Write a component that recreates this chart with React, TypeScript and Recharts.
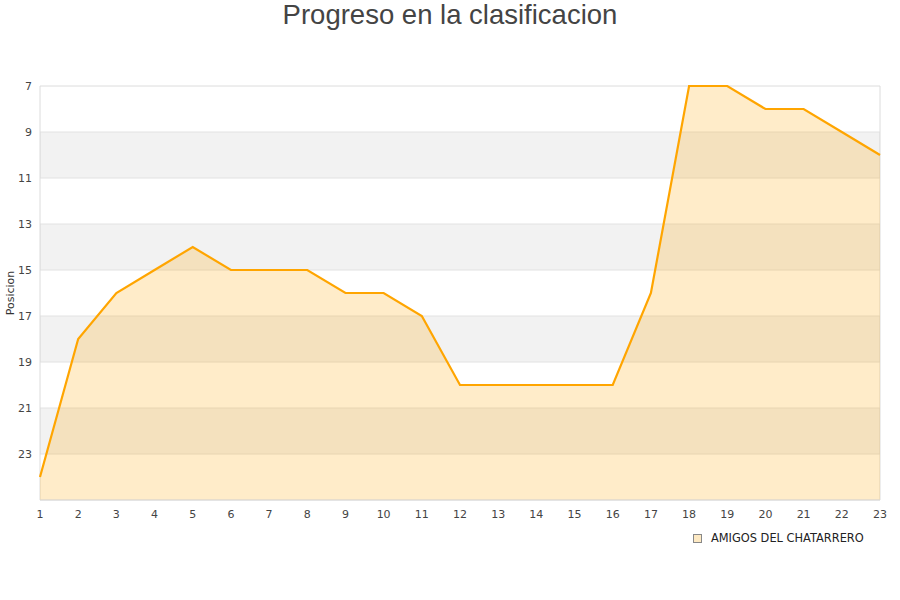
import { AreaChart, Area, XAxis, YAxis, ReferenceArea } from "recharts";

const rounds = [1, 2, 3, 4, 5, 6, 7, 8, 9, 10, 11, 12, 13, 14, 15, 16, 17, 18, 19, 20, 21, 22, 23];
const positions = [24, 18, 16, 15, 14, 15, 15, 15, 16, 16, 17, 20, 20, 20, 20, 20, 16, 7, 7, 8, 8, 9, 10];
const yTicks = [7, 9, 11, 13, 15, 17, 19, 21, 23];
const bands: [number, number][] = [[9, 11], [13, 15], [17, 19], [21, 23]];
const teamName = "AMIGOS DEL CHATARRERO";
const title = "Progreso en la clasificacion";

const data = rounds.map((r, i) => ({ round: r, pos: positions[i] }));

const tickStyle = { fill: "#444", fontSize: 11, fontFamily: "DejaVu Sans, sans-serif" };

export default function App() {
  return (
    <div style={{ position: "absolute", left: 0, top: 0, width: 900, height: 600, background: "#fff" }}>
      <div
        style={{
          position: "absolute",
          top: 0,
          left: 0,
          width: 900,
          textAlign: "center",
          fontFamily: "Liberation Sans, Arial, sans-serif",
          fontSize: 27.5,
          color: "#444",
          lineHeight: "30px",
        }}
      >
        {title}
      </div>
      <AreaChart width={900} height={600} data={data} margin={{ top: 86, right: 20, bottom: 70, left: 0 }}>
        {bands.map(([a, b]) => (
          <ReferenceArea key={a} y1={a} y2={b} fill="#f2f2f2" fillOpacity={1} stroke="#e2e2e2" strokeWidth={1} ifOverflow="hidden" />
        ))}
        <ReferenceArea x1={1} x2={23} y1={7} y2={25} fill="none" stroke="#dcdcdc" strokeWidth={1} />
        <XAxis
          dataKey="round"
          type="number"
          domain={[1, 23]}
          ticks={rounds}
          tickLine={false}
          axisLine={{ stroke: "#dcdcdc" }}
          tick={{ ...tickStyle, dy: 2 }}
          height={30}
          interval={0}
        />
        <YAxis
          reversed
          type="number"
          domain={[7, 25]}
          ticks={yTicks}
          tickLine={false}
          axisLine={false}
          tick={tickStyle}
          width={40}
          interval={0}
          label={{
            value: "Posicion",
            angle: -90,
            position: "insideLeft",
            offset: 10,
            style: { fill: "#333", fontSize: 11, fontFamily: "DejaVu Sans, sans-serif", textAnchor: "middle" },
          }}
        />
        <Area
          type="linear"
          dataKey="pos"
          name={teamName}
          stroke="#ffa500"
          strokeWidth={2.2}
          fill="#ffa500"
          fillOpacity={0.21}
          baseValue={25}
          dot={false}
          activeDot={false}
          isAnimationActive={false}
        />
      </AreaChart>
      <div
        style={{
          position: "absolute",
          left: 693,
          top: 531,
          display: "flex",
          alignItems: "center",
          fontFamily: "DejaVu Sans, sans-serif",
          fontSize: 11.4,
          color: "#222",
        }}
      >
        <span
          style={{
            display: "inline-block",
            width: 7,
            height: 7,
            background: "#fde9c3",
            border: "1px solid #888",
            marginRight: 9,
          }}
        />
        <span>{teamName}</span>
      </div>
    </div>
  );
}
